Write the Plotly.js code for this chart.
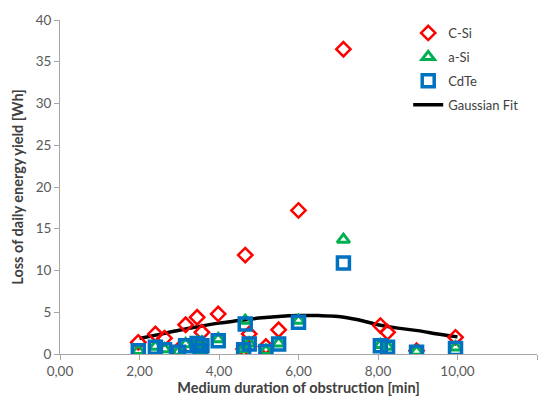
<!DOCTYPE html>
<html>
<head>
<meta charset="utf-8">
<script src="https://cdn.plot.ly/plotly-3.0.1.min.js"></script>
<style>html,body{margin:0;padding:0;background:#fff;}#chart{width:551px;height:402px;}</style>
</head>
<body>
<div id="chart"></div>
<script>
// Medium duration of obstruction [min]
const durations = [1.97, 2.4, 2.63, 2.98, 3.16, 3.45, 3.53, 3.57, 3.98, 4.66, 4.62, 4.76, 5.18, 5.5, 6.0, 7.13, 8.06, 8.24, 8.97, 9.95];
// Loss of daily energy yield [Wh]
const lossCSi  = [1.4, 2.4, 1.9, 0.5, 3.5, 4.4, 0.6, 2.6, 4.8, 11.85, 0.6, 2.4, 0.9, 2.9, 17.2, 36.5, 3.4, 2.6, 0.4, 2.0];
const lossASi  = [0.4, 0.9, 0.6, 0.3, 1.2, 1.4, 0.4, 1.4, 1.8, 4.0, 0.6, 1.3, 0.4, 1.3, 4.0, 13.7, 1.1, 0.9, 0.3, 0.8];
const lossCdTe = [0.4, 0.8, 0.5, 0.2, 1.0, 1.25, 0.4, 1.0, 1.6, 3.6, 0.5, 1.2, 0.3, 1.2, 3.8, 10.9, 1.0, 0.8, 0.2, 0.65];
// Gaussian fit curve
const fitX = [2.0, 2.5, 3.0, 3.5, 4.0, 4.5, 5.0, 5.5, 6.0, 6.5, 7.0, 7.5, 8.0, 8.5, 9.0, 9.5, 10.0];
const fitY = [1.85, 2.35, 2.85, 3.3, 3.7, 4.0, 4.3, 4.5, 4.6, 4.6, 4.5, 4.1, 3.5, 3.1, 2.8, 2.4, 2.05];
const xTicks = [0, 2, 4, 6, 8, 10, 12];
const yTicks = [0, 5, 10, 15, 20, 25, 30, 35, 40];

const font = "Lato, 'Open Sans', 'Liberation Sans', sans-serif";

const traces = [
  {x: fitX, y: fitY, mode: 'lines', name: 'Gaussian Fit', legendrank: 4, legendgroup: 'g4',
   line: {color: '#000000', width: 3.5, shape: 'spline'}, hoverinfo: 'skip'},
  {x: durations, y: lossCSi, mode: 'markers', name: 'C-Si', legendrank: 1, legendgroup: 'g1',
   marker: {symbol: 'diamond-open', size: 11, color: '#FF0000', line: {width: 2.5, color: '#FF0000'}}},
  {x: durations, y: lossASi, mode: 'markers', name: 'a-Si', legendrank: 2, legendgroup: 'g2',
   marker: {symbol: 'triangle-up-open', size: 11, color: '#00B050', line: {width: 3, color: '#00B050'}}},
  {x: durations, y: lossCdTe, mode: 'markers', name: 'CdTe', legendrank: 3, legendgroup: 'g3',
   marker: {symbol: 'square-open', size: 12, color: '#0070C0', line: {width: 3.5, color: '#0070C0'}}}
];

const layout = {
  width: 551, height: 402,
  margin: {l: 60, r: 14, t: 20, b: 48},
  paper_bgcolor: '#ffffff', plot_bgcolor: '#ffffff',
  separators: ', ',
  font: {family: font, size: 13, color: '#595959'},
  showlegend: true,
  legend: {x: 0.73, y: 1.006, xanchor: 'left', yanchor: 'top', bgcolor: 'rgba(0,0,0,0)',
           font: {family: font, size: 13, color: '#404040'}, tracegroupgap: 4},
  xaxis: {
    range: [0, 12], tickvals: xTicks, tickformat: '.2f',
    showgrid: false, zeroline: false, showline: true, linecolor: '#A6A6A6', linewidth: 1,
    ticks: 'outside', ticklen: 5, tickcolor: '#A6A6A6',
    tickfont: {size: 13.5, color: '#595959'},
    title: {text: 'Medium duration of obstruction [min]', font: {size: 14.5, color: '#404040', family: font, weight: 'bold'}, standoff: 1}
  },
  yaxis: {
    range: [0, 40], tickvals: yTicks,
    showgrid: false, zeroline: false, showline: true, linecolor: '#A6A6A6', linewidth: 1,
    ticks: 'outside', ticklen: 5, tickcolor: '#A6A6A6',
    tickfont: {size: 13.5, color: '#595959'},
    title: {text: 'Loss of daily energy yield [Wh]', font: {size: 14.5, color: '#404040', family: font, weight: 'bold'}, standoff: 8}
  }
};

Plotly.newPlot('chart', traces, layout, {displayModeBar: false, staticPlot: true});
</script>
</body>
</html>
